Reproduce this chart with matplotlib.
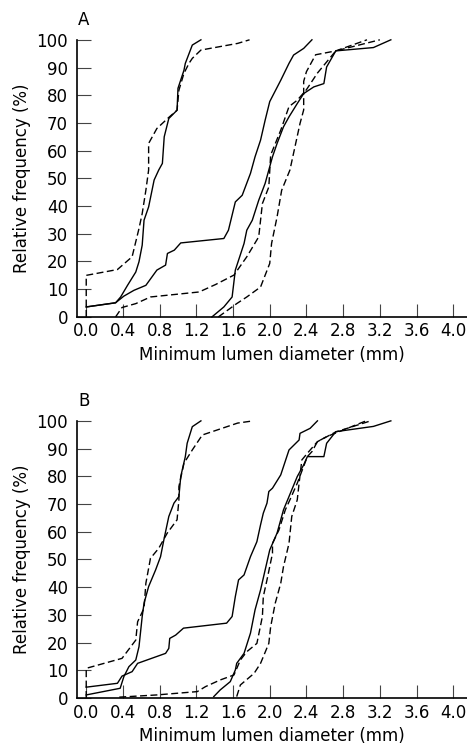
import numpy as np
import matplotlib
matplotlib.use("Agg")
import matplotlib.pyplot as plt

# panel A curves (x = minimum lumen diameter, y = cumulative %)
a_d1_x = [0.0, 0.0, 0.34, 0.50, 0.575, 0.61, 0.65, 0.68, 0.68, 0.77, 0.90, 0.99, 1.01, 1.065, 1.12, 1.156, 1.25, 1.65, 1.78]
a_d1_y = [0.0, 15.0, 17.1, 21.7, 31.9, 37.3, 45.7, 53.0, 62.6, 68.0, 72.0, 74.6, 81.8, 87.9, 91.5, 93.3, 96.3, 98.7, 100.0]

a_s1_x = [0.0, 0.32, 0.375, 0.45, 0.54, 0.575, 0.61, 0.63, 0.68, 0.74, 0.79, 0.83, 0.85, 0.90, 0.99, 1.00, 1.065, 1.08, 1.156, 1.25]
a_s1_y = [3.6, 5.1, 7.2, 11.4, 16.2, 19.9, 25.9, 34.9, 39.7, 49.4, 53.0, 55.4, 65.0, 71.6, 74.6, 82.5, 89.0, 91.5, 98.1, 100.0]

a_s2_x = [0.0, 0.32, 0.41, 0.52, 0.65, 0.77, 0.865, 0.885, 0.96, 1.03, 1.50, 1.55, 1.625, 1.70, 1.79, 1.84, 1.90, 1.95,
          2.00, 2.12, 2.21, 2.26, 2.37, 2.46]
a_s2_y = [3.6, 5.1, 7.5, 9.6, 11.4, 16.9, 18.7, 22.9, 24.1, 26.7, 28.3, 31.3, 41.5, 43.9, 51.8, 57.8, 63.8, 71.0,
          77.7, 85.4, 91.5, 94.5, 96.9, 100.0]

a_d2_x = [0.32, 0.39, 0.54, 0.70, 1.23, 1.41, 1.61, 1.75, 1.88, 1.92, 1.99, 2.01, 2.12, 2.21, 2.30, 2.40, 2.52, 2.62,
          2.72, 3.20]
a_d2_y = [0.0, 3.4, 4.8, 7.2, 9.0, 11.7, 15.1, 21.7, 28.9, 40.9, 46.9, 58.4, 67.4, 75.9, 78.2, 82.0, 88.0, 92.0,
          96.0, 100.0]

a_s3_x = [1.37, 1.50, 1.59, 1.625, 1.72, 1.75, 1.81, 1.88, 1.95, 2.03, 2.08, 2.15, 2.21, 2.30, 2.37, 2.48, 2.59, 2.62,
          2.72, 3.13, 3.32]
a_s3_y = [0.0, 3.6, 7.2, 16.9, 26.5, 31.3, 34.9, 42.1, 48.2, 57.8, 62.6, 68.6, 72.2, 77.0, 80.6, 83.0, 84.2, 90.2,
          96.0, 97.2, 100.0]

a_d3_x = [1.44, 1.64, 1.75, 1.90, 2.00, 2.02, 2.08, 2.13, 2.22, 2.33, 2.37, 2.37, 2.40, 2.50, 2.72, 3.06]
a_d3_y = [0.0, 4.8, 7.2, 10.8, 19.3, 26.5, 36.1, 45.7, 53.0, 69.8, 74.7, 85.0, 88.5, 94.6, 96.0, 100.0]

# panel B curves
b_d1_x = [0.0, 0.0, 0.39, 0.54, 0.56, 0.63, 0.65, 0.70, 0.79, 0.883, 0.99, 1.01, 1.01, 1.065, 1.156, 1.265, 1.65, 1.82]
b_d1_y = [0.0, 10.7, 14.3, 20.9, 27.5, 32.4, 41.4, 50.4, 54.0, 59.5, 64.3, 71.5, 76.3, 84.7, 89.5, 94.9, 99.2, 100.0]

b_s1_x = [0.0, 0.37, 0.41, 0.465, 0.54, 0.575, 0.61, 0.63, 0.68, 0.756, 0.81, 0.85, 0.90, 0.956, 1.01, 1.03, 1.08,
          1.10, 1.156, 1.25]
b_s1_y = [1.1, 3.5, 7.7, 11.3, 13.7, 18.5, 29.4, 34.2, 40.2, 46.2, 51.0, 57.7, 65.5, 70.3, 72.7, 79.9, 87.1,
          91.9, 97.9, 100.0]

b_s2_x = [0.0, 0.34, 0.39, 0.50, 0.56, 0.865, 0.90, 0.91, 0.975, 1.06, 1.53, 1.59, 1.625, 1.66, 1.72, 1.79, 1.86,
          1.90, 1.93, 1.97, 1.99, 2.03, 2.12, 2.21, 2.32, 2.33, 2.44, 2.52]
b_s2_y = [3.9, 5.3, 7.9, 9.5, 12.5, 16.1, 17.9, 21.5, 22.7, 25.2, 27.0, 29.4, 36.6, 42.6, 44.4, 51.0, 56.4,
          62.5, 66.7, 70.3, 74.5, 75.7, 80.5, 89.5, 93.1, 95.5, 97.3, 100.0]

b_d2_x = [0.36, 0.77, 1.21, 1.30, 1.46, 1.61, 1.68, 1.75, 1.86, 1.92, 1.93, 1.97, 2.03, 2.03, 2.10, 2.17, 2.22,
          2.30, 2.41, 2.46, 2.52, 2.62, 3.05]
b_d2_y = [0.3, 1.1, 2.3, 4.1, 6.5, 8.3, 13.7, 16.7, 19.7, 29.4, 36.6, 42.6, 52.2, 55.8, 60.6, 67.9, 71.5,
          77.5, 87.1, 88.9, 92.5, 94.3, 100.0]

b_s3_x = [1.39, 1.46, 1.57, 1.625, 1.64, 1.72, 1.79, 1.84, 1.90, 1.95, 2.00, 2.08, 2.15, 2.21, 2.30, 2.37, 2.41,
          2.59, 2.62, 2.72, 3.13, 3.32]
b_s3_y = [0.5, 2.9, 5.9, 10.1, 12.5, 16.1, 23.4, 31.8, 39.0, 46.2, 53.4, 59.5, 67.9, 72.7, 79.9, 84.1, 87.1,
          87.1, 91.9, 96.1, 98.0, 100.0]

b_d3_x = [1.64, 1.68, 1.83, 1.90, 1.99, 2.01, 2.06, 2.12, 2.15, 2.21, 2.24, 2.30, 2.32, 2.35, 2.41, 2.52, 2.72, 3.10]
b_d3_y = [0.5, 4.7, 8.9, 12.5, 19.7, 25.7, 34.2, 41.4, 47.4, 55.8, 65.5, 71.5, 77.5, 85.9, 88.3, 92.5, 96.0, 100.0]

x_ticks = np.arange(0, 4.01, 0.4)
y_ticks = np.arange(0, 101, 10)

panels = [
    ("A", [(a_s1_x, a_s1_y, "-"), (a_s2_x, a_s2_y, "-"), (a_s3_x, a_s3_y, "-"),
           (a_d1_x, a_d1_y, "--"), (a_d2_x, a_d2_y, "--"), (a_d3_x, a_d3_y, "--")]),
    ("B", [(b_s1_x, b_s1_y, "-"), (b_s2_x, b_s2_y, "-"), (b_s3_x, b_s3_y, "-"),
           (b_d1_x, b_d1_y, "--"), (b_d2_x, b_d2_y, "--"), (b_d3_x, b_d3_y, "--")]),
]

plt.rcParams['font.family'] = ['DejaVu Sans']
fig = plt.figure(figsize=(4.67, 7.51), dpi=100)
boxes = [[0.165, 0.578, 0.835, 0.369], [0.165, 0.0706, 0.835, 0.369]]

for (label, curves), box in zip(panels, boxes):
    ax = fig.add_axes(box)
    for xs, ys, ls in curves:
        if ls == "--":
            ax.plot(xs, ys, color='black', lw=1.0, ls=(0, (5, 2.5)), clip_on=False)
        else:
            ax.plot(xs, ys, color='black', lw=1.0, clip_on=False)
    ax.set_xlim(-0.1, 4.15)
    ax.set_ylim(0, 100)
    ax.set_xticks(x_ticks)
    ax.set_xticklabels([f"{t:.1f}" for t in x_ticks])
    ax.set_yticks(y_ticks)
    ax.spines['top'].set_visible(False)
    ax.spines['right'].set_visible(False)
    ax.spines['left'].set_linewidth(1.2)
    ax.spines['bottom'].set_linewidth(1.2)
    ax.tick_params(axis='x', direction='in', length=9.5, width=0.8, color='#444444', pad=4, labelsize=12)
    ax.tick_params(axis='y', direction='in', length=10, width=0.8, color='#444444', pad=6.5, labelsize=12)
    ax.set_xlabel("Minimum lumen diameter (mm)", fontsize=12, labelpad=4)
    ax.set_ylabel("Relative frequency (%)", fontsize=12, labelpad=4)
    ax.text(0.003, 1.04, label, transform=ax.transAxes, ha='left', va='bottom', fontsize=12)

fig.savefig("out.png", dpi=100)
